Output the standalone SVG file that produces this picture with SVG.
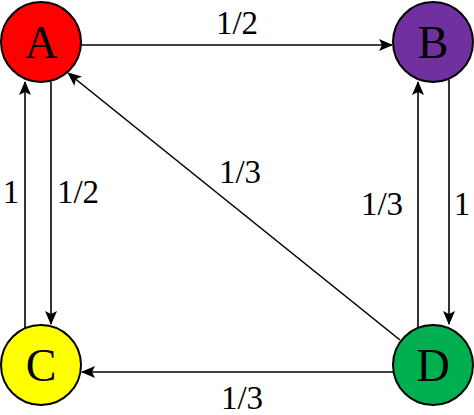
<svg xmlns="http://www.w3.org/2000/svg" width="474" height="415" viewBox="0 0 474 415">
<style>
.node{stroke:#000;stroke-width:2}
.lbl{font-family:'Liberation Serif','DejaVu Serif',serif;font-size:46px;text-anchor:middle;fill:#000}
.w{font-family:'Liberation Serif','DejaVu Serif',serif;font-size:33px;text-anchor:middle;fill:#000}
.e{stroke:#000;stroke-width:1.6;fill:none;marker-end:url(#ah)}
</style>
<defs>
<marker id="ah" viewBox="0 0 14 12" refX="13" refY="6" markerWidth="14" markerHeight="12" markerUnits="userSpaceOnUse" orient="auto">
<path d="M0,0 L14,6 L0,12 L3,6 Z" fill="#000"/>
</marker>
</defs>
<rect width="474" height="415" fill="#fff"/>
<g id="edges">
<line class="e" x1="81" y1="45" x2="392" y2="45"/>
<line class="e" x1="51" y1="82" x2="51" y2="324"/>
<line class="e" x1="25" y1="328" x2="25" y2="82"/>
<line class="e" x1="449" y1="80" x2="449" y2="324"/>
<line class="e" x1="418" y1="328" x2="418" y2="82"/>
<line class="e" x1="393" y1="372" x2="82" y2="372"/>
<line class="e" x1="400" y1="340" x2="68" y2="73"/>
</g>
<g id="labels">
<text class="w" x="237" y="34">1/2</text>
<text class="w" x="11" y="203">1</text>
<text class="w" x="78" y="203">1/2</text>
<text class="w" x="240" y="183">1/3</text>
<text class="w" x="382" y="215">1/3</text>
<text class="w" x="462" y="215">1</text>
<text class="w" x="242" y="409">1/3</text>
</g>
<g id="A"><circle class="node" cx="41" cy="42" r="40" fill="#ff0000"/><text class="lbl" x="41" y="58">A</text></g>
<g id="B"><circle class="node" cx="433" cy="42" r="40" fill="#7030a0"/><text class="lbl" x="433" y="58">B</text></g>
<g id="C"><circle class="node" cx="41" cy="365" r="40" fill="#ffff00"/><text class="lbl" x="41" y="381">C</text></g>
<g id="D"><circle class="node" cx="433" cy="365" r="40" fill="#00b050"/><text class="lbl" x="433" y="381">D</text></g>
</svg>
